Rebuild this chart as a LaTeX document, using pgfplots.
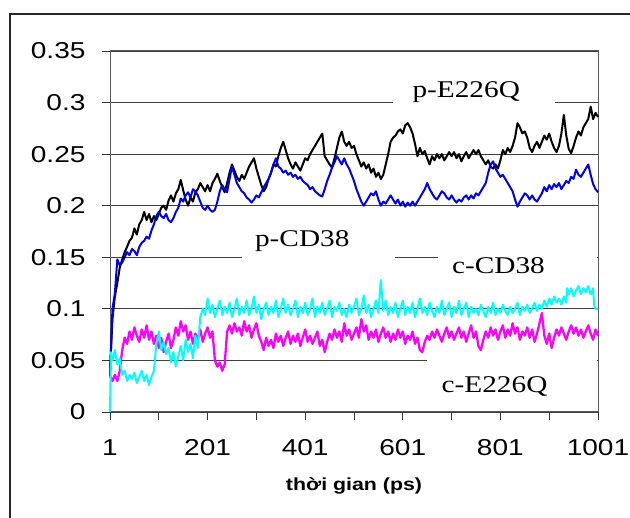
\documentclass[border=0pt]{standalone}
\usepackage{fontspec}
\setmainfont{Liberation Sans}[FakeStretch=1.22]
\newfontfamily\tnr{Liberation Serif}[FakeStretch=1.22]
\usepackage{pgfplots}
\pgfplotsset{compat=1.18}
\usepackage{pgfplotstable}
\definecolor{exblue}{RGB}{0,0,240}
\definecolor{excyan}{RGB}{0,255,255}
\definecolor{exmag}{RGB}{255,0,255}

\pgfplotstableread{
t v
1 0.040
6 0.090
11 0.112
16 0.125
21 0.140
26 0.148
31 0.155
36 0.160
41 0.166
46 0.169
51 0.178
56 0.172
61 0.182
66 0.186
71 0.194
76 0.186
81 0.192
86 0.184
91 0.190
96 0.186
101 0.192
106 0.198
111 0.200
116 0.196
121 0.205
126 0.210
131 0.204
136 0.212
141 0.216
146 0.225
151 0.215
156 0.206
161 0.200
166 0.208
171 0.204
176 0.213
181 0.216
186 0.222
191 0.218
196 0.214
201 0.220
206 0.214
211 0.222
216 0.226
221 0.231
226 0.224
231 0.218
236 0.213
241 0.222
246 0.232
251 0.240
256 0.234
261 0.228
266 0.224
271 0.230
276 0.226
281 0.232
286 0.238
291 0.242
296 0.246
301 0.236
306 0.228
311 0.220
316 0.214
321 0.218
326 0.226
331 0.232
336 0.240
341 0.238
346 0.248
351 0.256
356 0.262
361 0.254
366 0.246
371 0.240
376 0.236
381 0.242
386 0.238
391 0.234
396 0.240
401 0.246
406 0.244
411 0.250
416 0.254
421 0.258
426 0.262
431 0.266
436 0.270
441 0.248
446 0.244
451 0.240
456 0.237
461 0.246
466 0.256
471 0.266
476 0.272
481 0.262
486 0.258
491 0.262
496 0.256
501 0.258
506 0.250
511 0.244
516 0.238
521 0.242
526 0.236
531 0.240
536 0.232
541 0.236
546 0.228
551 0.232
556 0.226
561 0.230
566 0.240
571 0.250
576 0.262
581 0.266
586 0.268
591 0.272
596 0.274
601 0.270
606 0.278
611 0.280
616 0.276
621 0.270
626 0.260
631 0.248
636 0.256
641 0.250
646 0.253
651 0.246
656 0.240
661 0.248
666 0.244
671 0.250
676 0.246
681 0.250
686 0.244
691 0.248
696 0.252
701 0.248
706 0.252
711 0.246
716 0.250
721 0.243
726 0.248
731 0.252
736 0.246
741 0.250
746 0.254
751 0.250
756 0.254
761 0.248
766 0.244
771 0.240
776 0.244
781 0.238
786 0.236
791 0.240
796 0.236
801 0.244
806 0.254
811 0.250
816 0.256
821 0.252
826 0.258
831 0.266
836 0.280
841 0.276
846 0.270
851 0.272
856 0.266
861 0.256
866 0.252
871 0.258
876 0.262
881 0.256
886 0.262
891 0.268
896 0.264
901 0.270
906 0.262
911 0.256
916 0.252
921 0.258
926 0.270
931 0.288
936 0.268
941 0.255
946 0.251
951 0.258
956 0.266
961 0.272
966 0.268
971 0.276
976 0.280
981 0.284
986 0.296
991 0.284
996 0.290
1001 0.286
}\pE

\pgfplotstableread{
t v
1 0.035
6 0.100
11 0.115
16 0.148
21 0.142
26 0.145
31 0.150
36 0.155
41 0.152
46 0.158
51 0.156
56 0.152
61 0.160
66 0.164
71 0.166
76 0.170
81 0.168
86 0.176
91 0.182
96 0.190
101 0.194
106 0.190
111 0.188
116 0.192
121 0.186
126 0.184
131 0.188
136 0.194
141 0.198
146 0.207
151 0.204
156 0.210
161 0.213
166 0.208
171 0.216
176 0.214
181 0.210
186 0.204
191 0.198
196 0.196
201 0.200
206 0.196
211 0.194
216 0.196
221 0.204
226 0.214
231 0.220
236 0.216
241 0.213
246 0.226
251 0.238
256 0.230
261 0.222
266 0.218
271 0.214
276 0.212
281 0.208
286 0.206
291 0.203
296 0.206
301 0.210
306 0.208
311 0.213
316 0.218
321 0.222
326 0.226
331 0.232
336 0.240
341 0.246
346 0.238
351 0.236
356 0.232
361 0.234
366 0.230
371 0.232
376 0.228
381 0.230
386 0.226
391 0.228
396 0.224
401 0.222
406 0.220
411 0.216
416 0.218
421 0.214
426 0.212
431 0.210
436 0.209
441 0.216
446 0.224
451 0.230
456 0.237
461 0.242
466 0.248
471 0.244
476 0.240
481 0.246
486 0.240
491 0.236
496 0.230
501 0.224
506 0.216
511 0.210
516 0.204
521 0.200
526 0.204
531 0.208
536 0.212
541 0.210
546 0.214
551 0.206
556 0.200
561 0.204
566 0.202
571 0.206
576 0.210
581 0.206
586 0.202
591 0.206
596 0.200
601 0.204
606 0.199
611 0.203
616 0.200
621 0.204
626 0.200
631 0.204
636 0.208
641 0.212
646 0.216
651 0.222
656 0.216
661 0.212
666 0.208
671 0.206
676 0.210
681 0.214
686 0.212
691 0.208
696 0.206
701 0.210
706 0.206
711 0.203
716 0.206
721 0.204
726 0.208
731 0.210
736 0.206
741 0.210
746 0.207
751 0.212
756 0.210
761 0.214
766 0.218
771 0.222
776 0.232
781 0.240
786 0.243
791 0.236
796 0.232
801 0.228
806 0.230
811 0.226
816 0.222
821 0.218
826 0.214
831 0.206
836 0.199
841 0.204
846 0.208
851 0.212
856 0.210
861 0.206
866 0.210
871 0.206
876 0.204
881 0.208
886 0.212
891 0.218
896 0.214
901 0.220
906 0.216
911 0.221
916 0.218
921 0.222
926 0.216
931 0.220
936 0.224
941 0.222
946 0.228
951 0.226
956 0.235
961 0.230
966 0.228
971 0.232
976 0.236
981 0.240
986 0.230
991 0.221
996 0.216
1001 0.213
}\pC

\pgfplotstableread{
t v
1 0.000
3 0.058
6 0.050
11 0.060
16 0.046
21 0.052
26 0.036
31 0.040
36 0.030
41 0.036
46 0.032
51 0.038
56 0.028
61 0.034
66 0.040
71 0.030
76 0.036
81 0.026
86 0.034
91 0.040
96 0.066
101 0.078
106 0.060
111 0.068
116 0.056
121 0.062
126 0.048
131 0.058
136 0.044
141 0.054
146 0.064
151 0.050
156 0.070
161 0.058
166 0.066
171 0.052
176 0.074
181 0.062
186 0.092
191 0.100
196 0.094
201 0.110
206 0.096
211 0.104
216 0.092
221 0.100
226 0.108
231 0.094
236 0.102
241 0.096
246 0.106
251 0.092
256 0.100
261 0.110
266 0.094
271 0.102
276 0.096
281 0.108
286 0.094
291 0.100
296 0.112
301 0.096
306 0.104
311 0.090
316 0.100
321 0.106
326 0.094
331 0.102
336 0.096
341 0.108
346 0.092
351 0.100
356 0.110
361 0.096
366 0.104
371 0.094
376 0.100
381 0.108
386 0.092
391 0.102
396 0.096
401 0.106
406 0.094
411 0.100
416 0.110
421 0.092
426 0.102
431 0.096
436 0.106
441 0.094
446 0.100
451 0.108
456 0.092
461 0.102
466 0.098
471 0.106
476 0.094
481 0.100
486 0.092
491 0.104
496 0.096
501 0.102
506 0.110
511 0.094
516 0.100
521 0.113
526 0.096
531 0.104
536 0.092
541 0.100
546 0.108
551 0.096
556 0.128
561 0.098
566 0.108
571 0.094
576 0.102
581 0.096
586 0.106
591 0.092
596 0.100
601 0.108
606 0.094
611 0.102
616 0.096
621 0.106
626 0.092
631 0.100
636 0.110
641 0.096
646 0.102
651 0.094
656 0.106
661 0.098
666 0.092
671 0.102
676 0.096
681 0.108
686 0.094
691 0.100
696 0.106
701 0.092
706 0.102
711 0.096
716 0.108
721 0.094
726 0.100
731 0.106
736 0.092
741 0.102
746 0.096
751 0.100
756 0.094
761 0.104
766 0.098
771 0.092
776 0.102
781 0.096
786 0.106
791 0.094
796 0.100
801 0.096
806 0.104
811 0.098
816 0.094
821 0.102
826 0.096
831 0.100
836 0.106
841 0.094
846 0.102
851 0.098
856 0.104
861 0.096
866 0.100
871 0.106
876 0.098
881 0.104
886 0.100
891 0.108
896 0.102
901 0.110
906 0.104
911 0.112
916 0.106
921 0.110
926 0.104
931 0.112
936 0.106
938 0.120
941 0.114
946 0.120
951 0.112
956 0.118
961 0.122
966 0.114
971 0.120
976 0.116
981 0.122
986 0.114
991 0.120
993 0.104
996 0.100
1001 0.100
}\cC

\pgfplotstableread{
t v
1 0.035
6 0.030
11 0.036
16 0.030
21 0.040
26 0.060
31 0.072
36 0.066
41 0.078
46 0.070
51 0.082
56 0.074
61 0.068
66 0.080
71 0.072
76 0.084
81 0.070
86 0.078
91 0.066
96 0.074
101 0.062
106 0.072
111 0.058
116 0.068
121 0.076
126 0.062
131 0.070
136 0.082
141 0.074
146 0.088
151 0.078
156 0.084
161 0.070
166 0.078
171 0.066
176 0.076
181 0.070
186 0.080
191 0.068
196 0.076
201 0.082
206 0.072
211 0.078
216 0.050
221 0.044
226 0.048
231 0.040
236 0.046
241 0.078
246 0.084
251 0.076
256 0.086
261 0.078
266 0.082
271 0.074
276 0.088
281 0.078
286 0.084
291 0.072
296 0.080
301 0.086
306 0.074
311 0.068
316 0.060
321 0.072
326 0.064
331 0.070
336 0.062
341 0.076
346 0.068
351 0.074
356 0.064
361 0.072
366 0.078
371 0.066
376 0.074
381 0.068
386 0.076
391 0.064
396 0.072
401 0.080
406 0.068
411 0.074
416 0.066
421 0.072
426 0.078
431 0.064
436 0.070
441 0.058
446 0.068
451 0.076
456 0.070
461 0.080
466 0.072
471 0.078
476 0.068
481 0.086
486 0.074
491 0.080
496 0.070
501 0.076
506 0.082
511 0.072
516 0.090
521 0.078
526 0.084
531 0.070
536 0.078
541 0.072
546 0.080
551 0.068
556 0.076
561 0.082
566 0.072
571 0.078
576 0.068
581 0.076
586 0.070
591 0.080
596 0.072
601 0.078
606 0.066
611 0.074
616 0.070
621 0.078
626 0.066
631 0.072
636 0.060
641 0.058
646 0.068
651 0.074
656 0.070
661 0.078
666 0.072
671 0.080
676 0.074
681 0.068
686 0.076
691 0.082
696 0.072
701 0.078
706 0.070
711 0.076
716 0.082
721 0.072
726 0.078
731 0.068
736 0.076
741 0.084
746 0.072
751 0.078
756 0.064
761 0.060
766 0.070
771 0.078
776 0.072
781 0.082
786 0.074
791 0.080
796 0.070
801 0.078
806 0.084
811 0.072
816 0.080
821 0.074
826 0.086
831 0.076
836 0.082
841 0.070
846 0.078
851 0.074
856 0.082
861 0.072
866 0.080
871 0.068
876 0.076
881 0.086
886 0.096
891 0.074
896 0.066
901 0.076
906 0.062
911 0.072
916 0.080
921 0.074
926 0.082
931 0.076
936 0.070
941 0.078
946 0.084
951 0.076
956 0.082
961 0.074
966 0.080
971 0.072
976 0.078
981 0.084
986 0.076
991 0.070
996 0.080
1001 0.074
}\cE

\begin{document}
\begin{tikzpicture}
\begin{axis}[
  at={(110bp,106bp)}, anchor=south west,
  width=488bp, height=361bp, scale only axis,
  xmin=1, xmax=1001, ymin=0, ymax=0.35,
  axis line style={draw=black!65, line width=1bp},
  xtick={1,101,201,301,401,501,601,701,801,901,1001},
  xticklabels={1,,201,,401,,601,,801,,1001},
  ytick={0,0.05,0.1,0.15,0.2,0.25,0.3,0.35},
  yticklabels={0,0.05,0.1,0.15,0.2,0.25,0.3,0.35},
  xtick pos=bottom, ytick pos=left,
  tick align=outside, major tick length=8bp,
  tick style={black!80, line width=0.9bp},
  ymajorgrids, major grid style={draw=black!75, line width=0.9bp},
  /pgf/number format/assume math mode=true,
  ticklabel style={font=\fontsize{23bp}{27bp}\selectfont},
  xticklabel style={yshift=-16bp},
  yticklabel style={xshift=-13bp},
  xlabel={\bfseries thời gian (ps)},
  xlabel style={font=\fontsize{17.5bp}{21bp}\selectfont, at={(axis description cs:0.5,0)}, anchor=center, yshift=-74bp},
  every axis plot/.append style={line join=round, mark=none},
  clip=false,
]
% white text boxes of the labels
\fill[white] (axis cs:581,0.290) rectangle (axis cs:913,0.335);
\fill[white] (axis cs:271,0.143) rectangle (axis cs:585,0.190);
\fill[white] (axis cs:673,0.128) rectangle (axis cs:999,0.165);
\fill[white] (axis cs:651,0.006) rectangle (axis cs:999,0.054);
\addplot[black, line width=2bp] table[x=t,y=v] {\pE};
\addplot[exblue, line width=2bp] table[x=t,y=v] {\pC};
\addplot[exmag, line width=2.3bp] table[x=t,y=v] {\cE};
\addplot[excyan, line width=2bp] table[x=t,y=v] {\cC};
\node[font=\tnr\fontsize{24bp}{28bp}\selectfont, anchor=base] at (axis cs:731,0.3045) {p-E226Q};
\node[font=\tnr\fontsize{24bp}{28bp}\selectfont, anchor=base] at (axis cs:395,0.1605) {p-CD38};
\node[font=\tnr\fontsize{24bp}{28bp}\selectfont, anchor=base] at (axis cs:797,0.1345) {c-CD38};
\node[font=\tnr\fontsize{24bp}{28bp}\selectfont, anchor=base] at (axis cs:789,0.0185) {c-E226Q};
\end{axis}
\pgfresetboundingbox
\useasboundingbox (0,0) rectangle (630bp,518bp);
\draw[line width=2bp, black!85] (10bp,-20bp) rectangle (650bp,504bp);
\end{tikzpicture}
\end{document}
